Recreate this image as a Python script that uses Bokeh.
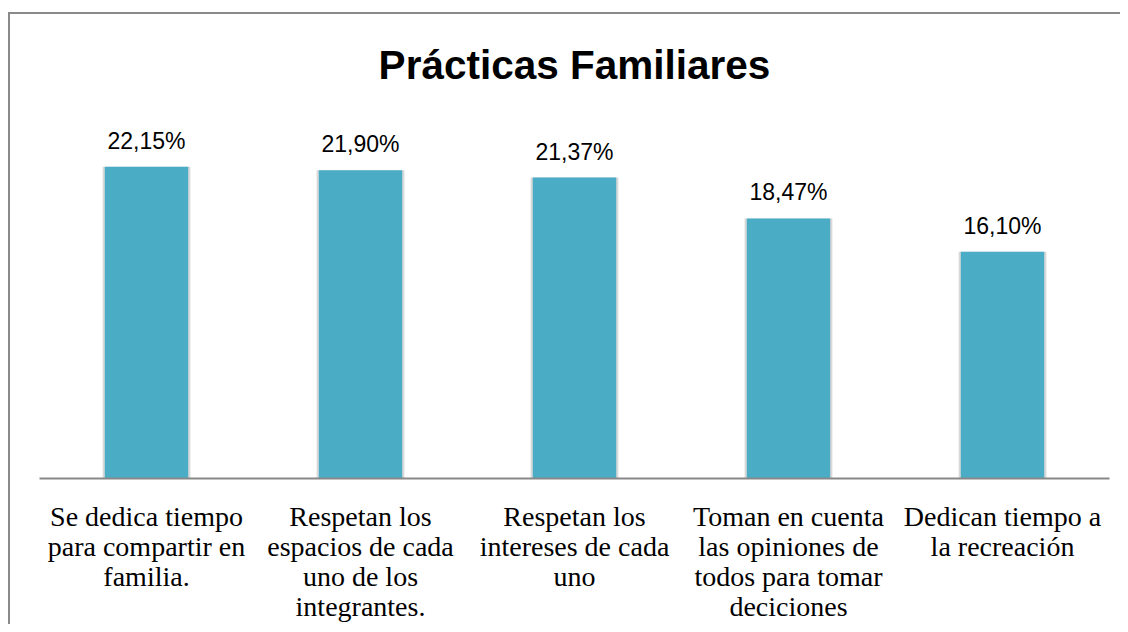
from bokeh.plotting import figure
from bokeh.models import ColumnDataSource, LabelSet, Range1d
from bokeh.core.properties import value
from bokeh.embed import file_html
from bokeh.resources import INLINE

title_text = "Prácticas Familiares"
categories = [
    "Se dedica tiempo\npara compartir en\nfamilia.",
    "Respetan los\nespacios de cada\nuno de los\nintegrantes.",
    "Respetan los\nintereses de cada\nuno",
    "Toman en cuenta\nlas opiniones de\ntodos para tomar\ndeciciones",
    "Dedican tiempo a\nla recreación",
]
values = [22.15, 21.90, 21.37, 18.47, 16.10]
value_labels = [("%.2f%%" % v).replace(".", ",") for v in values]

source = ColumnDataSource(dict(cat=categories, val=values, lab=value_labels))

p = figure(
    x_range=categories,
    y_range=Range1d(0, 25),
    width=1120,
    height=624,
    output_backend="svg",
    toolbar_location=None,
    min_border_left=39,
    min_border_right=11,
    min_border_top=126,
    min_border_bottom=146,
    title=title_text,
)
p.title.text_font = "Liberation Sans"
p.title.text_font_style = "bold"
p.title.text_font_size = "40.5px"
p.title.align = "center"
p.title.offset = 3
p.title.standoff = 77
p.title.text_color = "#000000"

# soft shadow behind bars
p.vbar(x="cat", top="val", width=0.41, source=source,
       fill_color="#d9d9d9", line_color=None)
p.vbar(x="cat", top="val", width=0.39, source=source,
       fill_color="#4BACC6", line_color=None)

labels = LabelSet(x="cat", y="val", text="lab", source=source,
                  text_align="center", text_baseline="alphabetic", y_offset=18,
                  text_font=value("Liberation Sans"), text_font_size="23px",
                  text_color="#000000")
p.add_layout(labels)

# chart-area frame (only its left and top edges fall inside the picture),
# drawn as the figure element's background, seen through a transparent canvas
p.border_fill_color = None
p.background_fill_color = None
p.styles = {
    "background-color": "white",
    "background-image": "linear-gradient(#8a8a8a, #8a8a8a), linear-gradient(#8a8a8a, #8a8a8a)",
    "background-size": "2px 100%, 100% 2px",
    "background-position": "right 1110px top 12px, left 8px top 12px",
    "background-repeat": "no-repeat",
}

p.yaxis.visible = False
p.xgrid.grid_line_color = None
p.ygrid.grid_line_color = None
p.outline_line_color = None

ax = p.xaxis[0]
ax.axis_line_color = "#888888"
ax.axis_line_width = 2
ax.major_tick_line_color = None
ax.minor_tick_line_color = None
ax.major_tick_out = 0
ax.major_tick_in = 0
ax.major_label_standoff = 22
ax.major_label_text_font = "Liberation Serif"
ax.major_label_text_font_size = "28px"
ax.major_label_text_line_height = 0.97
ax.major_label_text_color = "#000000"
ax.major_label_orientation = "horizontal"

open("out.html", "w").write(file_html(p, INLINE))
